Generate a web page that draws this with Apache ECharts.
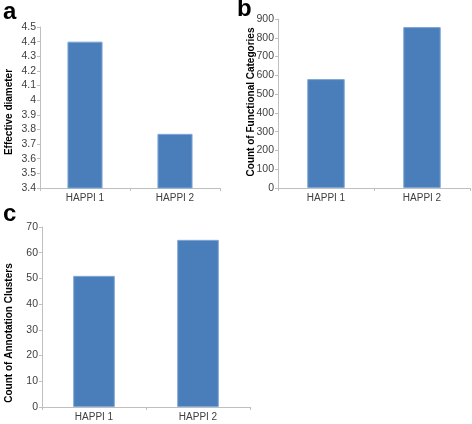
<!DOCTYPE html>
<html><head><meta charset="utf-8">
<script src="https://cdn.jsdelivr.net/npm/echarts@6/dist/echarts.min.js"></script>
<style>html,body{margin:0;padding:0;background:#fff}#c{width:472px;height:424px}</style>
</head><body><div id="c"></div>
<script>
var categories = ['HAPPI 1', 'HAPPI 2'];
var effectiveDiameter = [4.4, 3.77];
var functionalCategories = [580, 857];
var annotationClusters = [51, 65];
var yTitles = ['Effective diameter', 'Count of Functional Categories', 'Count of Annotation Clusters'];
var panelLetters = ['a', 'b', 'c'];

var font = '"Liberation Sans", Arial, sans-serif';
var axisGray = '#BFBFBF';
var labelGray = '#404040';
var barStyle = { color: '#4A7EBB', borderColor: '#7FA6D6', borderWidth: 1 };

function xAx(i) {
  return {
    type: 'category', gridIndex: i, data: categories,
    axisLine: { lineStyle: { color: axisGray } },
    axisTick: { show: true, length: 3, lineStyle: { color: axisGray } },
    axisLabel: { color: labelGray, fontFamily: font, fontSize: 10, margin: 5 }
  };
}
function yAx(i, min, max, interval) {
  return {
    type: 'value', gridIndex: i, min: min, max: max, interval: interval,
    axisLine: { show: true, lineStyle: { color: axisGray } },
    axisTick: { show: true, length: 3, lineStyle: { color: axisGray } },
    axisLabel: { color: labelGray, fontFamily: font, fontSize: 10.5, margin: 4 },
    splitLine: { show: false }
  };
}
function yTitle(text, x, y) {
  return { type: 'text', x: x, y: y, rotation: Math.PI / 2,
    style: { text: text, font: 'bold 10px ' + font, fill: '#000', align: 'center', verticalAlign: 'middle' } };
}
function letter(text, left, top) {
  return { type: 'text', left: left, top: top, style: { text: text, font: 'bold 24px ' + font, fill: '#000' } };
}

var chart = echarts.init(document.getElementById('c'));
chart.setOption({
  animation: false,
  grid: [
    { left: 40, right: 252, top: 27, bottom: 236 },
    { left: 278, right: 2, top: 19, bottom: 236 },
    { left: 42, right: 222, top: 227, bottom: 17 }
  ],
  xAxis: [xAx(0), xAx(1), xAx(2)],
  yAxis: [
    yAx(0, 3.4, 4.5, 0.1),
    yAx(1, 0, 900, 100),
    yAx(2, 0, 70, 10)
  ],
  series: [
    { type: 'bar', xAxisIndex: 0, yAxisIndex: 0, data: effectiveDiameter, barWidth: '39%', itemStyle: barStyle },
    { type: 'bar', xAxisIndex: 1, yAxisIndex: 1, data: functionalCategories, barWidth: '39%', itemStyle: barStyle },
    { type: 'bar', xAxisIndex: 2, yAxisIndex: 2, data: annotationClusters, barWidth: '40%', itemStyle: barStyle }
  ],
  graphic: [
    letter(panelLetters[0], 3, 0),
    letter(panelLetters[1], 237, -3),
    letter(panelLetters[2], 3, 202),
    yTitle(yTitles[0], 9, 112),
    yTitle(yTitles[1], 251, 102),
    yTitle(yTitles[2], 9, 333)
  ]
});
</script></body></html>
